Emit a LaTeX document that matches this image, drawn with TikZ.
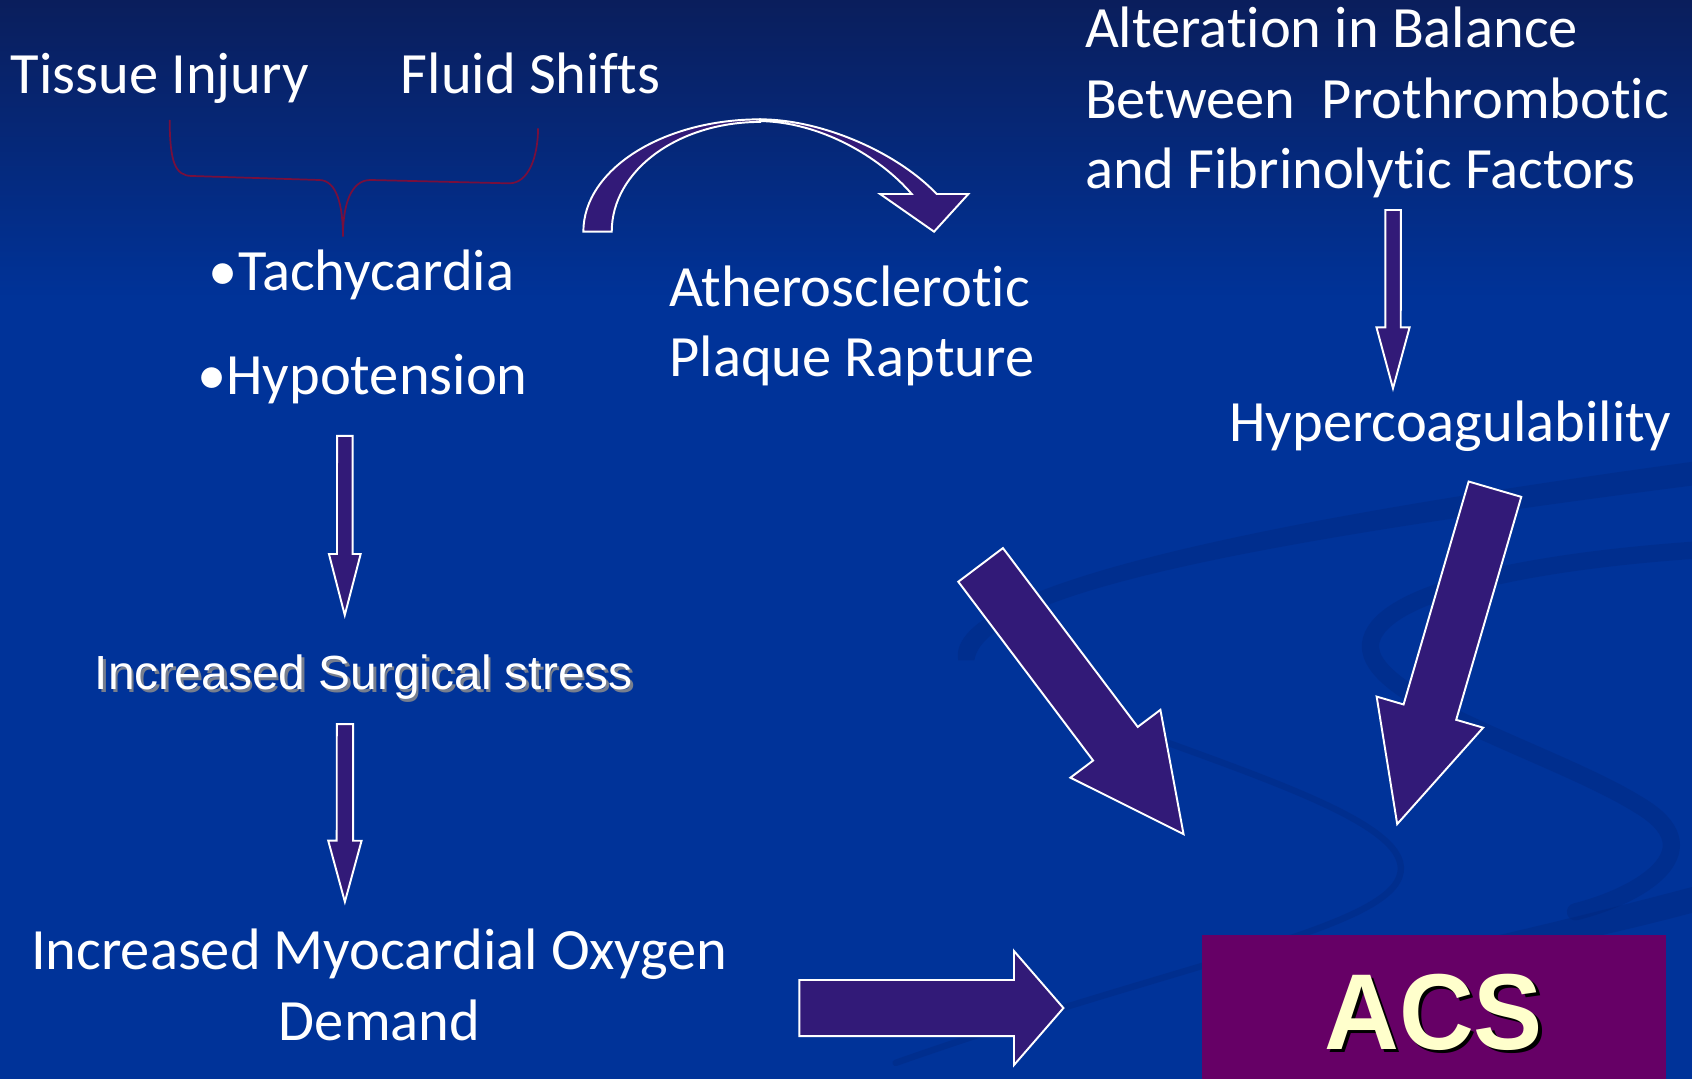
\documentclass[tikz,border=0pt]{standalone}
\usepackage{fontspec}
\setmainfont{Carlito}[Ligatures={NoCommon,NoContextual}]
\newfontfamily\arialfont{Liberation Sans}
\usetikzlibrary{calc}
\definecolor{bgtop}{RGB}{10,30,92}
\definecolor{bgmain}{RGB}{0,51,153}
\definecolor{arrowfill}{RGB}{50,26,120}
\definecolor{bracecol}{RGB}{120,15,60}
\definecolor{acsbg}{RGB}{102,0,102}
\definecolor{acstext}{RGB}{255,255,204}
\definecolor{swoosh}{RGB}{0,36,118}
\tikzset{
  lbl/.style={text=white, inner sep=0pt, outer sep=0pt, font=\fontsize{27.1}{32.5}\selectfont},
  arl/.style={inner sep=0pt, outer sep=0pt, font=\arialfont\fontsize{22.2}{26}\selectfont},
  blk/.style={draw=white, fill=arrowfill, line width=0.9pt, line join=miter},
  swfill/.style={fill=swoosh, fill opacity=0.3},
  swline/.style={draw=swoosh, draw opacity=0.3, line cap=round},
}
\newcommand{\blockarrow}[5]{%
  \coordinate (bahead) at ($(#2)!#5!(#1)$);
  \draw[blk] ($(#1)!#3!90:(#2)$) -- ($(bahead)!#3!90:(#2)$) -- ($(bahead)!#4!90:(#2)$) -- (#2)
    -- ($(bahead)!#4!-90:(#2)$) -- ($(bahead)!#3!-90:(#2)$) -- ($(#1)!#3!-90:(#2)$) -- cycle;
}
\begin{document}
\begin{tikzpicture}[x=0.5pt,y=-0.5pt]
\useasboundingbox (0,0) rectangle (1568,1000);
% background
\shade[top color=bgtop, bottom color=bgmain] (0,0) rectangle (1568,280);
\fill[bgmain] (0,279) rectangle (1568,1000);
% decorative swooshes
\fill[swfill] (888,612) .. controls (875,545) and (1150,485) .. (1568,428) -- (1568,450) .. controls (1180,500) and (912,548) .. (903,612) -- cycle;
\draw[swline, line width=3pt] (1000,658) .. controls (1150,715) and (1305,760) .. (1298,808) .. controls (1290,860) and (1100,890) .. (830,985);
\draw[swline, line width=8pt] (1568,510) .. controls (1400,522) and (1275,552) .. (1270,597) .. controls (1266,650) and (1450,700) .. (1525,750) .. controls (1585,790) and (1520,830) .. (1460,845);
\fill[swfill] (1330,880) .. controls (1420,860) and (1500,840) .. (1568,822) -- (1568,846) .. controls (1500,864) and (1420,882) .. (1340,895) -- cycle;

% texts
\node[lbl, anchor=base west] (tissue) at (10,86.5) {Tissue Injury};
\node[lbl, anchor=base west] (fluid) at (371.5,86.5) {Fluid Shifts};
\node[lbl, anchor=base east] (tachy) at (476.5,268.8) {•Tachycardia};
\node[lbl, anchor=base east] (hypo) at (489,366) {•Hypotension};
\node[lbl, anchor=base west] (ath1) at (620.5,284.2) {Atherosclerotic};
\node[lbl, anchor=base west] (ath2) at (620.5,349.1) {Plaque Rapture};
\node[lbl, anchor=base west] (alt1) at (1005.5,44.2) {Alteration in Balance};
\node[lbl, anchor=base west] (alt2) at (1005.5,109.7) {Between\ \ Prothrombotic};
\node[lbl, anchor=base west] (alt3) at (1005.5,174.5) {and Fibrinolytic Factors};
\node[lbl, anchor=base east] (hyper) at (1549,409.3) {Hypercoagulability};
\node[lbl, anchor=base] (myo1) at (351.5,898.3) {Increased Myocardial Oxygen};
\node[lbl, anchor=base] (myo2) at (351.8,963.8) {Demand};
\node[arl, anchor=base west, text=black!45, opacity=0.85] at (90.5,641.5) {Increased Surgical stress};
\node[arl, anchor=base west, text=white] (surg) at (88,638.9) {Increased Surgical stress};

% curly brace
\coordinate (brl) at (157.2,111.2);
\coordinate (brt) at (317.8,219.3);
\coordinate (brr) at (498.6,118.9);
\draw[bracecol, line width=0.8pt] (brl) .. controls (157.5,150) and (162,163) .. (178,163.1) -- (295.8,166.8)
  .. controls (312,167) and (317.8,190) .. (brt) .. controls (317.8,190) and (325,166.8) .. (343.4,166.8)
  -- (471.7,169.9) .. controls (490,170) and (498.6,145) .. (brr);

% straight block arrows
\coordinate (a1s) at (319.6,404);   \coordinate (a1e) at (319.5,570);
\coordinate (a2s) at (319.7,671);   \coordinate (a2e) at (319.6,835.7);
\coordinate (a3s) at (1291,194.6);  \coordinate (a3e) at (1290.9,359.9);
\coordinate (d1s) at (908.75,523.5); \coordinate (d1e) at (1096.8,773);
\coordinate (d2s) at (1385.4,453.35); \coordinate (d2e) at (1294.8,763.7);
\coordinate (rs) at (740.7,934.15); \coordinate (re) at (985.5,934.15);
\blockarrow{a1s}{a1e}{3.63pt}{7.35pt}{28.3pt}
\blockarrow{a2s}{a2e}{3.8pt}{7.72pt}{28.3pt}
\blockarrow{a3s}{a3e}{3.58pt}{7.68pt}{28.25pt}
\blockarrow{d1s}{d1e}{12.95pt}{26.1pt}{52.45pt}
\blockarrow{d2s}{d2e}{12.7pt}{25.7pt}{54.05pt}
\blockarrow{rs}{re}{13pt}{26.4pt}{22.9pt}

% curved arrow
\draw[blk] (540.6,214.7) .. controls (540.6,157.2) and (614,110.6) .. (704.4,110.6) -- (704.4,113)
  .. controls (628.5,113) and (566.9,158) .. (566.9,214.7) -- cycle;
\draw[blk] (704.4,110.6) .. controls (760,110.6) and (830,140) .. (868.1,179.8) -- (897.4,179.8)
  -- (865.6,214.7) -- (815.6,179.8) -- (844.9,179.8) .. controls (815,145) and (760,113) .. (704.4,112.2) -- cycle;

% ACS box
\node[fill=acsbg, minimum width=214.85pt, minimum height=66.75pt, inner sep=0pt, outer sep=0pt] (acsbox) at (1328.65,933.25) {};
\node[anchor=base, inner sep=0pt, text=black] at (1331.6,975.5) {\scalebox{0.96}[1]{\arialfont\bfseries\fontsize{50}{60}\selectfont ACS}};
\node[anchor=base, inner sep=0pt, text=acstext] (acs) at (1328.6,972.5) {\scalebox{0.96}[1]{\arialfont\bfseries\fontsize{50}{60}\selectfont ACS}};
\end{tikzpicture}
\end{document}
